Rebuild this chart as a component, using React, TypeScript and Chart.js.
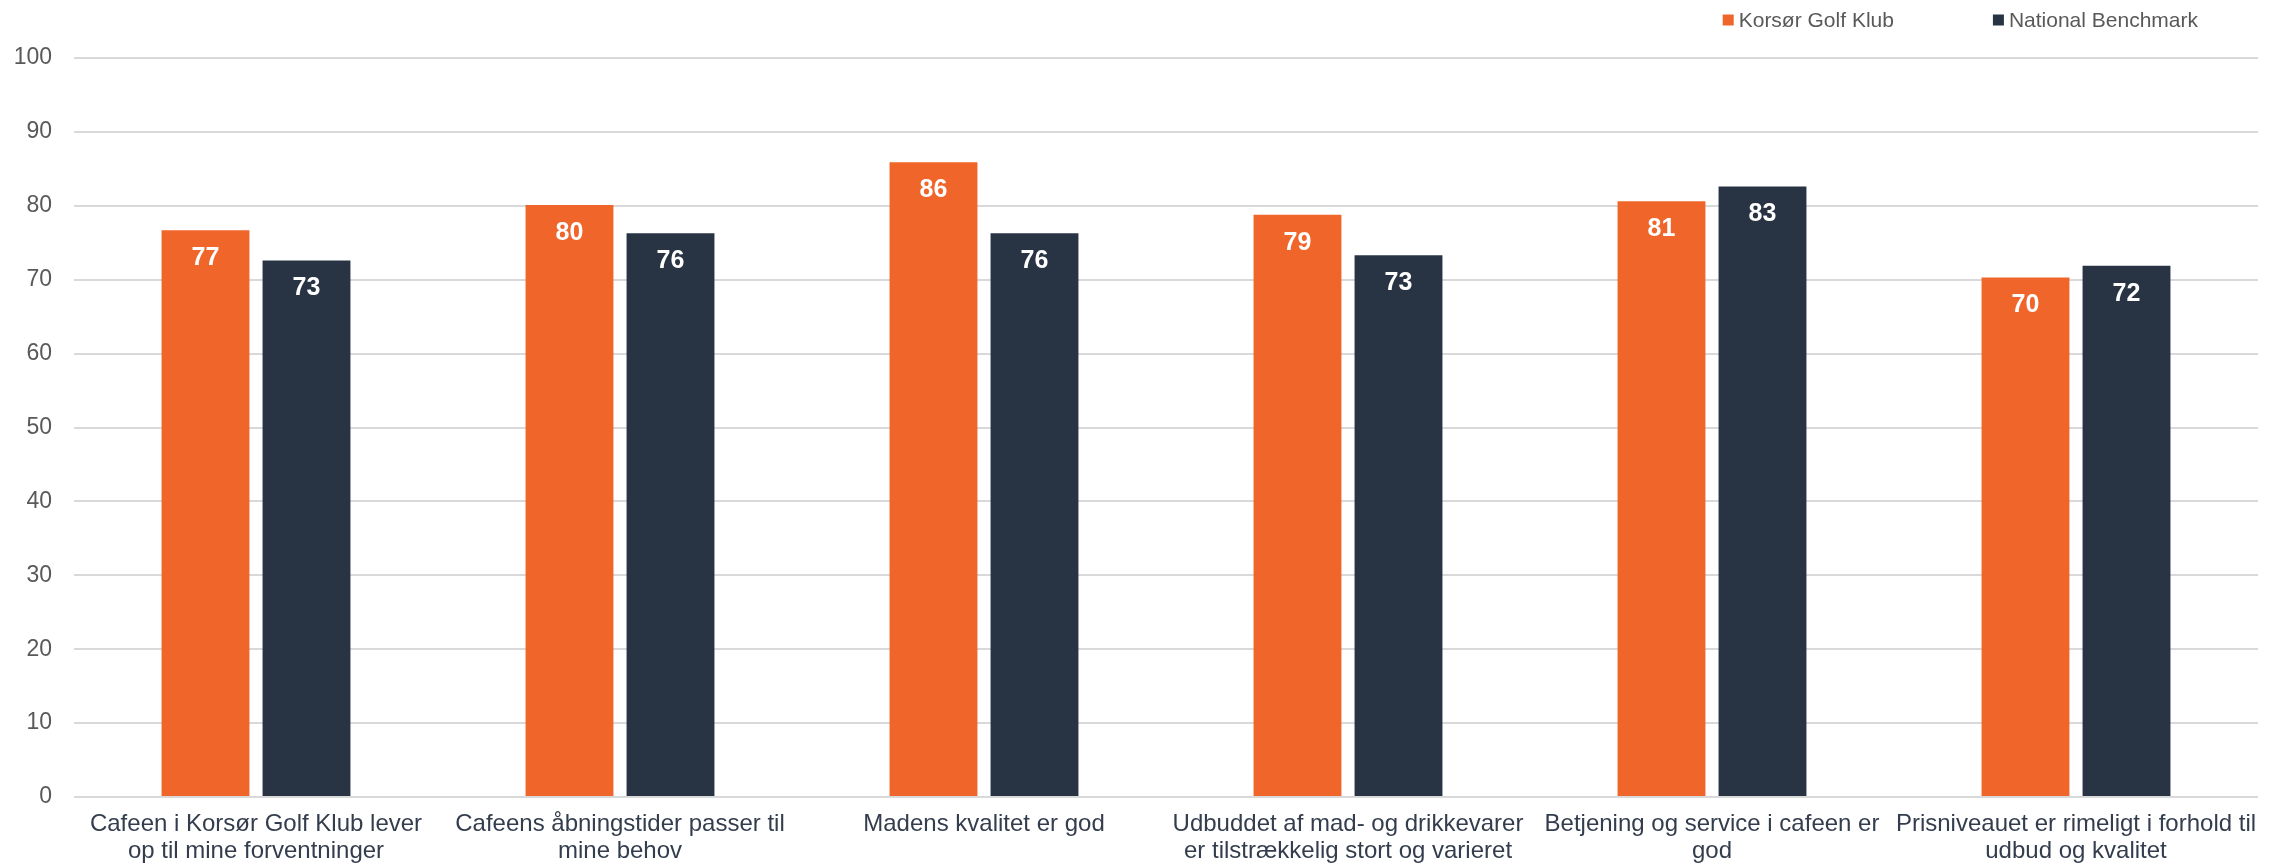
import React, { useEffect, useRef } from "react";
import { Chart, registerables } from "chart.js";

Chart.register(...registerables);

const categories: string[][] = [
  ["Cafeen i Korsør Golf Klub lever", "op til mine forventninger"],
  ["Cafeens åbningstider passer til", "mine behov"],
  ["Madens kvalitet er god"],
  ["Udbuddet af mad- og drikkevarer", "er tilstrækkelig stort og varieret"],
  ["Betjening og service i cafeen er", "god"],
  ["Prisniveauet er rimeligt i forhold til", "udbud og kvalitet"],
];

const seriesNames = ["Korsør Golf Klub", "National Benchmark"];
const korsorValues = [76.7, 80.1, 85.9, 78.8, 80.6, 70.3];
const benchmarkValues = [72.6, 76.3, 76.3, 73.3, 82.6, 71.9];
const seriesColors = ["#F0652A", "#283444"];

const yMin = 0;
const yMax = 100;
const yStep = 10;

const FONT = "'Liberation Sans', Arial, sans-serif";

const valueLabelPlugin = {
  id: "valueLabels",
  afterDatasetsDraw(chart: any) {
    const ctx = chart.ctx;
    ctx.save();
    ctx.font = `bold 25px ${FONT}`;
    ctx.fillStyle = "#ffffff";
    ctx.textAlign = "center";
    ctx.textBaseline = "middle";
    chart.data.datasets.forEach((ds: any, di: number) => {
      const meta = chart.getDatasetMeta(di);
      meta.data.forEach((el: any, i: number) => {
        const v = ds.data[i];
        ctx.fillText(String(Math.round(v)), el.x, el.y + 28);
      });
    });
    ctx.restore();
  },
};

const legendPlugin = {
  id: "customLegend",
  afterDraw(chart: any) {
    const ctx = chart.ctx;
    ctx.save();
    ctx.font = `21px ${FONT}`;
    ctx.textBaseline = "middle";
    ctx.textAlign = "left";
    const box = 11;
    const gapBoxText = 5;
    const itemGap = 99;
    const cy = 20;
    const widths = seriesNames.map((n) => ctx.measureText(n).width);
    let total = 0;
    widths.forEach((w, i) => {
      total += box + gapBoxText + w + (i < widths.length - 1 ? itemGap : 0);
    });
    let x = chart.chartArea.right - 60 - total;
    seriesNames.forEach((name, i) => {
      ctx.fillStyle = seriesColors[i];
      ctx.fillRect(x, cy - box / 2, box, box);
      ctx.fillStyle = "#595959";
      ctx.fillText(name, x + box + gapBoxText, cy + 1);
      x += box + gapBoxText + widths[i] + itemGap;
    });
    ctx.restore();
  },
};

export default function App() {
  const canvasRef = useRef<HTMLCanvasElement | null>(null);

  useEffect(() => {
    if (!canvasRef.current) return;
    const chart = new Chart(canvasRef.current, {
      type: "bar",
      data: {
        labels: categories,
        datasets: [
          {
            label: seriesNames[0],
            data: korsorValues,
            backgroundColor: seriesColors[0],
            categoryPercentage: 0.555,
            barPercentage: 0.87,
          },
          {
            label: seriesNames[1],
            data: benchmarkValues,
            backgroundColor: seriesColors[1],
            categoryPercentage: 0.555,
            barPercentage: 0.87,
          },
        ],
      },
      options: {
        animation: false,
        responsive: true,
        maintainAspectRatio: false,
        layout: { padding: { top: 58, right: 27, left: 0, bottom: 0 } },
        plugins: {
          legend: { display: false },
          tooltip: { enabled: false },
        },
        scales: {
          x: {
            grid: { display: false, drawTicks: false },
            border: { display: false },
            ticks: {
              color: "#333d4d",
              font: { family: FONT, size: 24, lineHeight: 1.125 },
              padding: 14,
              maxRotation: 0,
              minRotation: 0,
              autoSkip: false,
            },
            afterFit: (s: any) => {
              s.height = 70;
            },
          },
          y: {
            min: yMin,
            max: yMax,
            grid: { color: "#d9d9d9", lineWidth: 2, drawTicks: false },
            border: { display: false },
            ticks: {
              stepSize: yStep,
              color: "#595959",
              font: { family: FONT, size: 23 },
              padding: 22,
            },
            afterFit: (s: any) => {
              s.width = 74;
            },
          },
        },
      },
      plugins: [valueLabelPlugin, legendPlugin],
    });
    return () => chart.destroy();
  }, []);

  return (
    <div
      style={{
        position: "fixed",
        left: 0,
        top: 0,
        width: "2285px",
        height: "867px",
        background: "#ffffff",
      }}
    >
      <canvas ref={canvasRef} />
    </div>
  );
}
